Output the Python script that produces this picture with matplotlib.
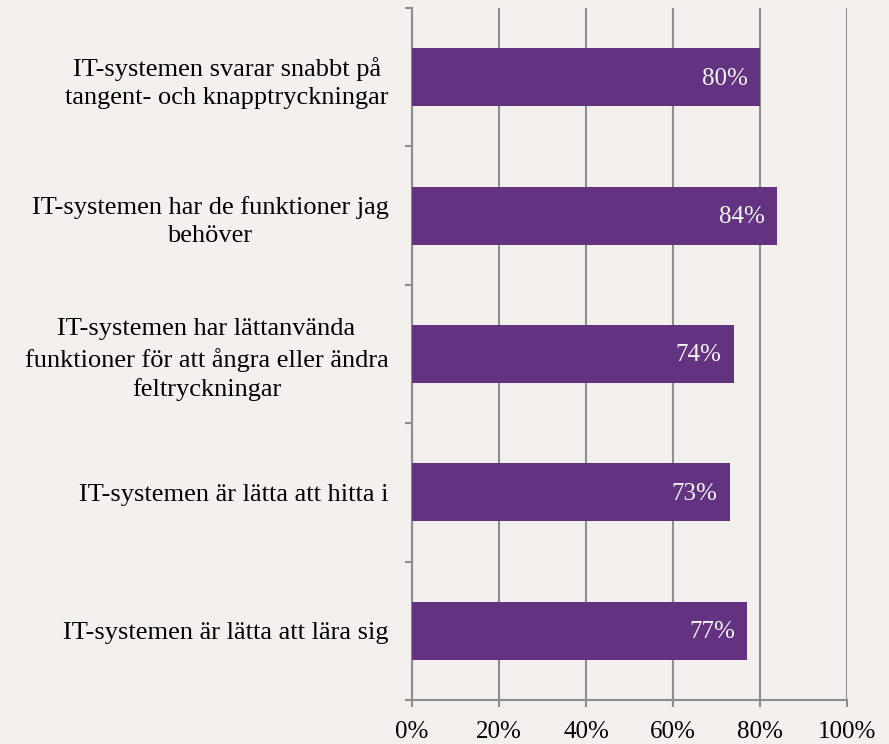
import matplotlib
matplotlib.use("Agg")
import matplotlib.pyplot as plt
import numpy as np

categories = [
    "IT-systemen svarar snabbt på\ntangent- och knapptryckningar",
    "IT-systemen har de funktioner jag\nbehöver",
    "IT-systemen har lättanvända\nfunktioner för att ångra eller ändra\nfeltryckningar",
    "IT-systemen är lätta att hitta i",
    "IT-systemen är lätta att lära sig",
]
values = [0.80, 0.84, 0.74, 0.73, 0.77]
xticks = [0, 0.2, 0.4, 0.6, 0.8, 1.0]
xticklabels = ["0%", "20%", "40%", "60%", "80%", "100%"]

bg = "#F3F0ED"
bar_color = "#633382"
grid_color = "#8E8E8E"

plt.rcParams["font.family"] = ["Liberation Serif", "DejaVu Serif"]

fig = plt.figure(figsize=(8.89, 7.44), dpi=100, facecolor=bg)
ax = fig.add_axes([412/889, 1-700/744, (847-412)/889, (700-8)/744])
ax.set_facecolor(bg)

n = len(categories)
y = np.arange(n)
ax.barh(y, values, height=0.42, color=bar_color, zorder=3)
ax.set_ylim(n - 0.5, -0.5)
ax.set_xlim(0, 1.0)

for yi, v in zip(y, values):
    ax.text(v - 0.028, yi + 0.01, f"{round(v*100)}%", ha="right", va="center",
            color="#F4F4F4", fontsize=18, zorder=4)

ax.set_yticks(y)
ax.set_yticklabels(categories, fontsize=19)
for t in ax.get_yticklabels():
    t.set_multialignment("center")
    t.set_linespacing(1.38)
ax.tick_params(axis="y", which="major", length=0, pad=17)
ax.set_yticks(np.arange(n + 1) - 0.5, minor=True)
ax.tick_params(axis="y", which="minor", length=5, width=1.5, color=grid_color, direction="out")

ax.set_xticks(xticks)
ax.set_xticklabels(xticklabels, fontsize=18)
ax.tick_params(axis="x", which="major", length=5, width=1.5, color=grid_color, pad=10)

ax.grid(axis="x", color=grid_color, linewidth=1.5, zorder=0)
ax.set_axisbelow(True)

for s in ["top", "right"]:
    ax.spines[s].set_visible(False)
for s in ["left", "bottom"]:
    ax.spines[s].set_color(grid_color)
    ax.spines[s].set_linewidth(1.5)

fig.savefig("out.png", dpi=100, facecolor=bg)
